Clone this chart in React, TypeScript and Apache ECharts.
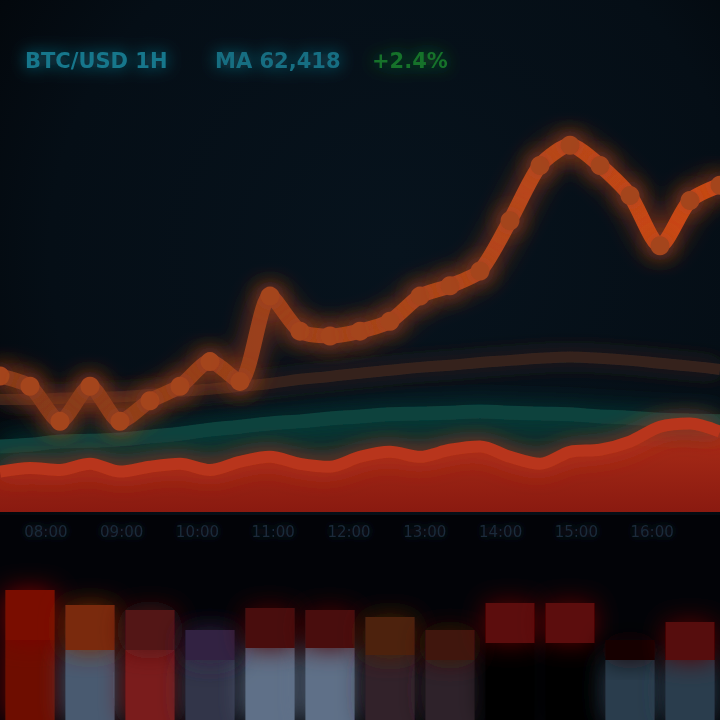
import React, { useEffect, useRef } from "react";
import * as echarts from "echarts";

const times = [
  "00:00","01:00","02:00","03:00","04:00","05:00","06:00","07:00","08:00","09:00",
  "10:00","11:00","12:00","13:00","14:00","15:00","16:00","17:00","18:00","19:00",
  "20:00","21:00","22:00","23:00","24:00",
];
const price = [33, 30.5, 22, 30.5, 22, 27, 30.5, 36.5, 31.7, 52.4, 43.9, 42.7, 43.9, 46.3, 52.4, 54.9, 58.5, 70.7, 84.1, 89, 84.1, 76.8, 64.6, 75.6, 79.3];
const maLine = [27.3, 27.3, 27.6, 27.8, 28.0, 28.5, 29.3, 29.8, 30.5, 31.2, 32.2, 32.9, 33.7, 34.4, 35.1, 35.6, 36.3, 36.8, 37.3, 37.6, 37.3, 36.8, 36.1, 35.4, 34.6];
const band = [15.9, 16.3, 17.1, 17.3, 17.6, 18.3, 19.0, 20.0, 20.7, 21.5, 22.0, 22.7, 23.2, 23.7, 23.9, 24.1, 24.4, 24.1, 23.9, 23.7, 23.2, 22.9, 22.4, 22.2, 22.0];
const volume = [9.8, 10.7, 10.2, 11.7, 9.8, 11.0, 11.7, 10.2, 12.2, 13.4, 11.7, 11.0, 13.4, 14.6, 13.4, 15.1, 15.9, 13.4, 11.7, 14.6, 15.1, 17.1, 20.7, 21.5, 19.5];
const tickLabels = ["08:00", "09:00", "10:00", "11:00", "12:00", "13:00", "14:00", "15:00", "16:00"];

const lowerSlots = ["A", "B", "C", "D", "E", "F", "G", "H", "I", "J", "K", "L"];
const lowerBase = [80, 70, 70, 60, 72, 72, 65, 60, 77, 77, 60, 60];
const lowerTop = [50, 45, 40, 30, 40, 38, 38, 30, 40, 40, 20, 38];
const baseColors = ["#6e1006", "#4a5a70", "#7a1c1c", "#30364a", "#5e7088", "#5e7088", "#33222c", "#2e2129", "#050205", "#050205", "#2c3c4e", "#2c3c4e"];
const topColors = ["#7a1006", "#7a2a0e", "#521216", "#302442", "#4a0c0c", "#4a0c0c", "#4e240e", "#40140c", "#5c0707", "#5c0707", "#160606", "#560909"];

const glow = (c: string, b = 26) => ({ color: c, shadowBlur: b, shadowColor: c });
const headerFont = "bold 21px 'DejaVu Sans'";

export default function App() {
  const ref = useRef<HTMLDivElement>(null);
  useEffect(() => {
    document.body.style.margin = "0";
    document.body.style.background = "#03070c";
    const chart = echarts.init(ref.current!, null, { renderer: "svg" });
    chart.setOption({
      animation: false,
      backgroundColor: {
        type: "radial", x: 0.55, y: 0.35, r: 0.8,
        colorStops: [
          { offset: 0, color: "#07131d" },
          { offset: 0.6, color: "#050e16" },
          { offset: 1, color: "#010204" },
        ],
      },
      graphic: [
        { type: "rect", left: 0, top: 515, shape: { width: 720, height: 205 }, style: { fill: "#020307" }, z: -1 },
        { type: "text", left: 25, top: 50, style: { text: "BTC/USD 1H", font: headerFont, fill: "#17778c", textShadowBlur: 16, textShadowColor: "#17778c" } },
        { type: "text", left: 215, top: 50, style: { text: "MA 62,418", font: headerFont, fill: "#176e82", textShadowBlur: 16, textShadowColor: "#176e82" } },
        { type: "text", left: 372, top: 50, style: { text: "+2.4%", font: headerFont, fill: "#14722a", textShadowBlur: 16, textShadowColor: "#14722a" } },
      ],
      grid: [
        { left: 0, right: 0, top: 100, bottom: 208 },
        { left: 8, right: 30, top: 100, bottom: 208 },
        { left: 0, right: 0, top: 570, bottom: 0 },
      ],
      xAxis: [
        { type: "category", gridIndex: 0, data: times, boundaryGap: false, show: false },
        {
          type: "category", gridIndex: 1, data: tickLabels, boundaryGap: true,
          axisLine: { show: false }, axisTick: { show: false }, splitLine: { show: false },
          axisLabel: { color: "#1a2a3a", fontSize: 15, margin: 12, fontFamily: "DejaVu Sans", textShadowBlur: 8, textShadowColor: "#1a2a3a" },
        },
        { type: "category", gridIndex: 2, data: lowerSlots, show: false },
      ],
      yAxis: [
        { type: "value", gridIndex: 0, min: 0, max: 100, show: false },
        { type: "value", gridIndex: 1, min: 0, max: 1, show: false },
        { type: "value", gridIndex: 2, min: 0, max: 150, show: false },
      ],
      series: [
        {
          type: "line", name: "band", data: band, xAxisIndex: 0, yAxisIndex: 0, symbol: "none", smooth: true,
          lineStyle: { width: 14, color: "#0d423c", shadowBlur: 24, shadowColor: "#0d423c" },
          areaStyle: { color: "#0a3230", opacity: 0.9 },
        },
        {
          type: "line", name: "volume", data: volume, xAxisIndex: 0, yAxisIndex: 0, symbol: "none", smooth: 0.3,
          lineStyle: { width: 12, color: "#b8361a", shadowBlur: 22, shadowColor: "#b8361a" },
          areaStyle: {
            color: { type: "linear", x: 0, y: 0, x2: 0, y2: 1, colorStops: [{ offset: 0, color: "#ad2e18" }, { offset: 1, color: "#8a1a10" }] },
            opacity: 1,
          },
        },
        {
          type: "line", name: "MA", data: maLine, xAxisIndex: 0, yAxisIndex: 0, symbol: "none", smooth: true,
          lineStyle: { width: 11, color: "#35241f", shadowBlur: 20, shadowColor: "#35241f" },
        },
        {
          type: "line", name: "price", data: price, xAxisIndex: 0, yAxisIndex: 0, smooth: 0.25,
          symbol: "circle", symbolSize: 19, showAllSymbol: true,
          itemStyle: { color: "#a4441c", shadowBlur: 22, shadowColor: "#a4441c" },
          lineStyle: {
            width: 15,
            color: { type: "linear", x: 0, y: 0, x2: 1, y2: 0, colorStops: [{ offset: 0, color: "#7e381c" }, { offset: 0.6, color: "#ad451c" }, { offset: 1, color: "#cf4818" }] },
            shadowBlur: 26, shadowColor: "#a03c1a",
          },
        },
        {
          type: "bar", name: "base", stack: "v", xAxisIndex: 2, yAxisIndex: 2, barCategoryGap: "18%",
          data: lowerBase.map((v, i) => ({ value: v, itemStyle: glow(baseColors[i]) })),
        },
        {
          type: "bar", name: "top", stack: "v", xAxisIndex: 2, yAxisIndex: 2, barCategoryGap: "18%",
          data: lowerTop.map((v, i) => ({ value: v, itemStyle: glow(topColors[i]) })),
        },
      ],
    });
    return () => chart.dispose();
  }, []);
  return <div ref={ref} style={{ position: "fixed", left: 0, top: 0, width: 720, height: 720 }} />;
}
